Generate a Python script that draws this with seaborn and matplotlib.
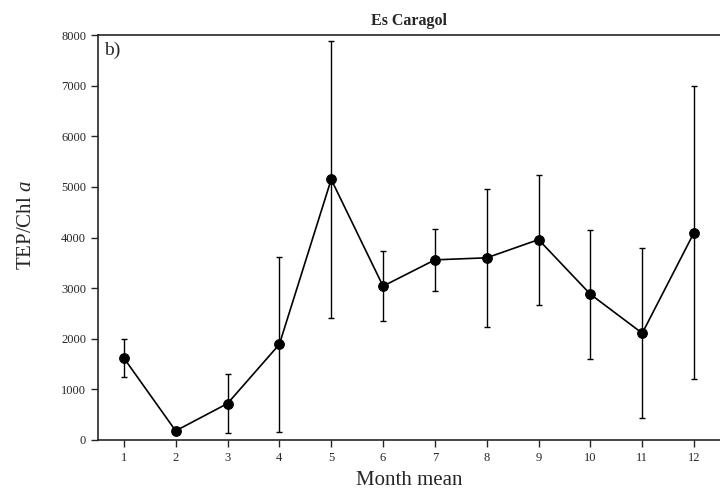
import pandas as pd
import numpy as np
import matplotlib.pyplot as plt
import seaborn as sns

# Monthly means and SD
months = [1, 2, 3, 4, 5, 6, 7, 8, 9, 10, 11, 12]
tep_chl = [1620, 180, 720, 1890, 5150, 3040, 3560, 3600, 3960, 2880, 2110, 4100]
sd = [380, 0, 590, 1735, 2740, 685, 610, 1365, 1285, 1275, 1685, 2905]

df = pd.DataFrame({"Month": months, "TEP_Chl": tep_chl, "SD": sd})

sns.set_style("ticks")
plt.rcParams['font.family'] = ['Liberation Serif', 'DejaVu Serif']
plt.rcParams['mathtext.fontset'] = 'custom'
plt.rcParams['mathtext.rm'] = 'Liberation Serif'
plt.rcParams['mathtext.it'] = 'Liberation Serif:italic'

fig = plt.figure(figsize=(7.2, 4.96), dpi=100)
ax = fig.add_axes([0.136, 0.113, 0.864, 0.816])

ax.errorbar(df["Month"], df["TEP_Chl"], yerr=df["SD"], fmt="none",
            ecolor="black", elinewidth=1.0, capsize=2.5, capthick=1.0, zorder=2)
sns.lineplot(x="Month", y="TEP_Chl", data=df, ax=ax, color="black",
             marker="o", markersize=7, markeredgecolor="black",
             linewidth=1.2, zorder=3)

ax.set_xlim(0.5, 12.5)
ax.set_ylim(0, 8000)
ax.set_xticks(months)
ax.set_yticks(np.arange(0, 8001, 1000))
ax.tick_params(axis="both", labelsize=9, length=5, width=1, direction="out")

for s in ["left", "top", "bottom"]:
    ax.spines[s].set_linewidth(1.2)
ax.spines["right"].set_visible(False)

ax.set_title("Es Caragol", fontsize=11.5, fontweight="bold", pad=7)
ax.set_xlabel("Month mean", fontsize=15, labelpad=5)
ax.set_ylabel("TEP/Chl $\\mathit{a}$", fontsize=15)
ax.yaxis.set_label_coords(-0.1, 0.53)
ax.text(0.01, 0.985, "b)", transform=ax.transAxes, fontsize=14,
        va="top", ha="left")

plt.savefig("out.png", dpi=100)
